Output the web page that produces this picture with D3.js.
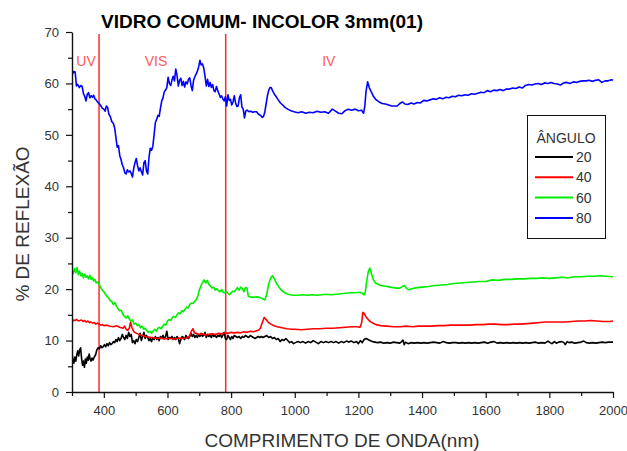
<!DOCTYPE html>
<html>
<head>
<meta charset="utf-8">
<script src="https://cdn.jsdelivr.net/npm/d3@7"></script>
<style>
  html, body { margin: 0; padding: 0; background: #fff; }
  svg { display: block; font-family: "Liberation Sans", Arial, sans-serif; }
</style>
</head>
<body>
<svg id="chart" width="627" height="451"></svg>
<script>
// Reflectance spectra of common clear glass (3 mm) at four incidence angles.
// Each series: [wavelength nm, % reflection]
const angles = ["20", "40", "60", "80"];
const colors = ["#000000", "#ff0000", "#00ee00", "#0000ff"];

const serie80 = [
[300,61.6],[305,62.3],[310,62.2],[314,59.5],[318,59.8],[323,59.2],[328,59.6],[332,59.4],[336,58.0],[340,57.5],
[344,56.6],[348,57.9],[352,58.2],[356,57.2],[360,57.6],[364,57.3],[368,57.7],[372,57.0],[376,56.8],[380,56.4],
[385,56.1],[390,55.7],[395,55.2],[400,55.0],[404,54.6],[408,55.6],[412,55.3],[416,54.0],[420,53.6],[425,52.6],
[430,52.2],[434,51.4],[438,49.5],[442,47.6],[446,47.9],[450,46.0],[454,45.2],[458,44.2],[462,43.6],[466,42.6],
[470,42.4],[474,43.2],[478,42.8],[482,43.0],[486,42.5],[490,41.8],[494,43.5],[498,44.6],[502,45.4],[506,44.0],
[510,43.0],[514,43.6],[518,42.8],[522,42.2],[526,44.6],[530,45.0],[534,43.0],[538,42.4],[542,45.6],[546,47.4],
[550,47.0],[554,47.8],[558,50.0],[562,52.4],[566,53.0],[570,53.8],[574,53.6],[578,55.2],[582,56.6],[586,57.2],
[590,58.4],[594,58.7],[598,59.2],[602,61.2],[606,60.0],[610,59.6],[614,60.6],[618,61.4],[622,60.5],[626,62.8],
[630,61.6],[634,59.5],[638,60.6],[642,61.0],[646,59.6],[650,60.4],[654,59.3],[658,60.3],[662,59.9],[666,60.8],
[670,61.1],[674,59.6],[678,58.6],[682,60.6],[686,61.3],[690,61.8],[694,62.4],[698,63.2],[702,64.5],[706,63.6],
[710,63.8],[714,63.0],[718,61.4],[722,59.5],[726,60.8],[730,59.4],[734,60.2],[738,59.2],[742,59.8],[746,58.6],
[750,58.4],[754,59.4],[758,58.6],[762,58.0],[766,57.3],[770,57.6],[774,57.0],[778,56.6],[782,57.4],[786,55.6],
[790,57.8],[794,56.7],[798,56.9],[802,55.8],[806,56.4],[810,57.6],[814,56.2],[818,55.5],[822,55.6],[826,57.2],
[830,57.8],[834,55.4],[838,55.0],[842,53.3],[846,54.6],[850,54.8],[856,54.5],[862,54.6],[868,54.4],[874,54.5],
[880,54.5],[886,54.0],[892,53.8],[898,53.4],[902,53.6],[906,54.5],[910,56.0],[914,57.6],[918,58.6],[922,59.2],
[926,59.2],[930,58.6],[936,57.9],[942,57.4],[948,56.8],[955,56.2],[962,55.8],[970,55.3],[978,55.0],[988,54.7],
[998,54.5],[1010,54.3],[1022,54.5],[1034,54.2],[1046,54.4],[1058,54.3],[1070,54.6],[1082,54.4],[1094,54.5],[1106,54.2],
[1118,55.0],[1128,54.6],[1138,54.2],[1148,54.1],[1158,54.7],[1168,55.0],[1178,54.8],[1190,55.0],[1200,54.7],[1210,54.8],
[1216,54.2],[1220,55.5],[1224,58.5],[1229,60.3],[1234,59.2],[1240,58.4],[1248,57.4],[1256,56.8],[1265,56.4],[1275,56.1],
[1285,56.0],[1295,55.8],[1305,55.6],[1315,55.6],[1322,55.6],[1330,56.1],[1338,56.4],[1346,56.0],[1355,55.9],[1365,56.2],
[1375,56.0],[1385,56.3],[1395,56.2],[1405,56.7],[1415,56.6],[1425,56.8],[1435,57.0],[1445,56.9],[1455,57.2],[1465,57.0],
[1475,57.3],[1485,57.2],[1495,57.5],[1505,57.4],[1515,57.7],[1525,57.6],[1535,57.8],[1545,57.7],[1555,58.0],[1565,57.9],
[1575,58.1],[1585,58.3],[1595,58.2],[1605,58.6],[1615,58.4],[1625,58.7],[1635,58.6],[1645,58.8],[1655,58.6],[1665,58.9],
[1675,58.9],[1685,59.1],[1695,59.0],[1705,59.3],[1715,59.1],[1725,59.6],[1735,59.8],[1745,59.7],[1755,59.9],[1765,60.0],
[1775,59.8],[1785,60.1],[1795,60.0],[1805,60.2],[1815,60.0],[1825,59.9],[1835,59.7],[1845,60.1],[1855,60.2],[1865,60.0],
[1875,60.3],[1885,60.2],[1895,60.4],[1905,60.5],[1915,60.5],[1925,60.6],[1935,60.4],[1945,60.6],[1955,60.7],[1965,60.2],
[1975,60.5],[1985,60.5],[1995,60.7],[2000,60.6]
];

const serie60 = [
[300,23.7],[304,23.0],[308,24.0],[312,23.2],[316,24.2],[320,22.8],[324,23.5],[328,22.6],[332,23.0],[336,22.2],
[340,22.9],[344,22.3],[348,22.6],[352,22.0],[356,22.7],[360,21.9],[364,22.2],[368,21.6],[372,21.9],[376,21.2],
[380,21.4],[385,21.0],[390,20.3],[395,19.9],[400,19.5],[405,19.0],[410,18.6],[415,18.3],[420,17.8],[425,17.6],
[430,17.0],[435,17.4],[440,16.6],[445,16.2],[450,15.8],[455,15.9],[460,15.1],[465,14.7],[470,14.4],[475,14.8],
[480,14.2],[485,13.8],[490,14.0],[495,13.2],[500,13.4],[505,12.9],[510,13.1],[515,12.5],[520,12.8],[525,12.2],
[530,12.4],[535,11.9],[540,11.6],[545,11.8],[550,11.4],[555,11.9],[560,12.2],[565,11.8],[570,12.4],[575,12.6],
[580,12.3],[585,12.8],[590,13.2],[595,13.0],[600,13.8],[605,14.1],[610,13.9],[615,14.4],[620,14.7],[625,14.5],
[630,15.0],[635,15.4],[640,15.2],[645,15.8],[650,15.6],[655,16.1],[660,16.5],[665,16.3],[670,17.0],[675,17.3],
[680,17.2],[685,17.6],[690,17.9],[695,18.6],[700,19.8],[705,20.6],[710,21.3],[715,21.8],[720,21.2],[725,21.7],
[730,20.9],[735,20.6],[740,20.2],[745,20.4],[750,19.8],[755,20.1],[760,19.7],[765,19.5],[770,19.9],[775,19.4],
[780,19.3],[785,19.6],[790,19.2],[795,18.9],[800,19.3],[805,19.6],[810,19.5],[815,19.9],[820,20.3],[825,19.8],
[830,20.4],[835,20.1],[840,19.5],[845,20.3],[850,20.2],[854,18.6],[860,18.5],[870,18.4],[880,18.5],[890,18.4],
[900,18.1],[906,17.9],[912,19.0],[918,21.0],[924,22.1],[930,22.6],[936,22.0],[942,21.2],[950,20.4],[958,19.8],
[966,19.4],[975,19.1],[985,18.9],[995,18.8],[1010,18.8],[1025,18.9],[1040,18.8],[1055,18.9],[1070,18.8],[1085,18.9],
[1100,19.0],[1115,18.9],[1130,19.0],[1145,19.1],[1160,19.2],[1175,19.3],[1190,19.3],[1205,19.4],[1212,19.2],[1218,18.9],
[1222,19.6],[1226,21.5],[1231,23.4],[1236,24.1],[1241,23.0],[1246,22.0],[1252,21.3],[1260,21.0],[1270,20.7],[1280,20.6],
[1290,20.5],[1300,20.4],[1310,20.3],[1320,20.2],[1330,20.2],[1338,20.5],[1345,20.7],[1352,20.1],[1358,19.9],[1370,20.1],
[1385,20.3],[1400,20.4],[1420,20.5],[1440,20.7],[1460,20.8],[1480,20.9],[1500,21.1],[1520,21.2],[1540,21.3],[1560,21.4],
[1580,21.5],[1600,21.5],[1620,21.8],[1640,21.7],[1660,21.9],[1680,21.9],[1700,22.0],[1720,22.0],[1740,22.1],[1760,22.1],
[1780,22.2],[1800,22.1],[1820,22.2],[1840,22.3],[1860,22.2],[1880,22.4],[1900,22.4],[1920,22.5],[1940,22.5],[1960,22.6],
[1980,22.5],[2000,22.4]
];

const serie40 = [
[300,13.6],[305,14.0],[310,13.9],[315,14.1],[320,13.8],[325,13.9],[330,14.0],[335,13.7],[340,13.9],[345,13.6],
[350,13.8],[355,13.5],[360,13.6],[365,13.4],[370,13.5],[375,13.2],[380,13.4],[385,13.2],[390,13.0],[395,13.1],
[400,12.9],[410,13.0],[420,12.8],[430,12.7],[440,12.9],[450,12.6],[460,12.4],[465,12.8],[470,12.2],[475,12.0],
[480,12.4],[484,13.6],[488,12.6],[492,12.0],[496,11.6],[500,11.5],[510,11.2],[520,11.0],[530,10.8],[540,10.7],
[550,10.6],[560,10.5],[570,10.4],[580,10.5],[590,10.3],[600,10.4],[610,10.4],[620,10.3],[630,10.4],[640,10.5],
[650,10.4],[660,10.5],[665,10.6],[670,11.0],[675,11.8],[680,12.3],[685,11.5],[690,11.4],[700,11.2],[710,11.3],
[720,11.1],[730,11.2],[740,11.3],[750,11.2],[760,11.4],[770,11.3],[780,11.5],[790,11.4],[800,11.6],[810,11.5],
[820,11.6],[830,11.5],[840,11.7],[850,11.6],[860,11.8],[870,11.7],[880,11.9],[886,12.0],[892,12.4],[898,13.5],
[904,14.5],[910,14.1],[916,13.6],[925,13.2],[935,12.9],[945,12.7],[960,12.5],[975,12.3],[990,12.2],[1000,12.2],
[1020,12.1],[1040,12.2],[1060,12.3],[1080,12.3],[1100,12.4],[1120,12.4],[1140,12.5],[1160,12.6],[1180,12.7],[1195,12.7],
[1205,12.6],[1210,13.4],[1214,15.5],[1218,15.3],[1222,14.8],[1228,14.3],[1235,13.8],[1245,13.4],[1255,13.1],[1270,12.9],
[1290,12.8],[1310,12.7],[1330,12.7],[1350,12.8],[1370,12.7],[1390,12.8],[1410,12.8],[1430,12.8],[1450,12.9],[1470,12.9],
[1490,13.0],[1510,13.0],[1530,13.0],[1550,13.0],[1570,13.1],[1590,13.1],[1610,13.2],[1630,13.2],[1650,13.1],[1670,13.1],
[1690,13.2],[1710,13.2],[1730,13.3],[1750,13.4],[1770,13.5],[1790,13.6],[1810,13.6],[1830,13.6],[1850,13.6],[1870,13.7],
[1890,13.8],[1910,13.8],[1930,13.9],[1950,13.8],[1970,13.7],[1990,13.7],[2000,13.8]
];

const serie20 = [
[300,7.6],[303,6.2],[306,5.6],[309,6.8],[312,6.0],[315,7.2],[318,8.0],[321,7.0],[324,8.2],[327,8.6],
[330,6.6],[333,5.2],[336,6.0],[339,4.8],[342,6.4],[345,5.6],[348,6.8],[351,6.2],[354,7.4],[357,6.4],
[360,6.0],[363,6.6],[366,6.2],[370,6.8],[374,7.2],[378,8.2],[382,8.6],[386,8.4],[390,9.0],[394,8.6],
[398,8.8],[402,9.2],[406,8.8],[410,9.4],[414,9.0],[418,9.6],[422,9.2],[426,9.4],[430,9.8],[434,9.6],
[438,10.2],[442,9.8],[446,10.6],[450,10.0],[454,10.4],[458,11.2],[462,10.6],[466,10.2],[470,11.0],[474,10.4],
[478,11.6],[482,10.8],[486,11.2],[490,9.6],[494,10.0],[498,9.4],[502,10.2],[506,9.8],[510,10.6],[514,11.4],
[518,10.0],[522,10.8],[526,11.6],[530,10.4],[534,11.0],[538,10.6],[542,10.0],[546,10.4],[550,9.8],[554,10.6],
[558,10.2],[562,10.8],[566,10.2],[570,10.6],[574,10.0],[578,10.8],[582,10.4],[586,11.0],[590,10.4],[594,10.8],
[598,11.8],[602,10.2],[606,10.6],[610,10.4],[614,10.8],[618,10.2],[622,10.6],[626,10.2],[630,10.8],[634,10.4],
[638,9.4],[642,10.2],[646,10.8],[650,10.6],[654,10.2],[658,11.0],[662,10.6],[666,10.4],[670,10.8],[674,11.4],
[678,10.8],[682,11.2],[686,10.6],[690,11.0],[694,10.6],[698,11.2],[702,10.8],[706,11.4],[710,10.8],[714,11.0],
[718,11.6],[722,10.6],[726,11.2],[730,10.8],[734,11.0],[738,10.6],[742,11.2],[746,10.8],[750,11.0],[754,10.6],
[758,11.0],[762,10.8],[766,11.2],[770,10.6],[774,11.0],[778,11.6],[782,10.4],[786,10.2],[790,11.0],[794,10.6],
[798,10.2],[802,10.8],[806,10.4],[810,11.0],[815,10.8],[820,10.6],[825,10.8],[830,10.4],[835,10.8],[840,10.6],
[845,11.0],[850,10.8],[855,10.6],[860,11.0],[865,10.8],[870,10.6],[875,10.4],[880,10.6],[885,10.8],[890,10.6],
[895,10.8],[900,10.6],[906,10.8],[912,11.0],[918,10.6],[924,10.8],[930,10.4],[936,10.6],[942,10.2],[948,10.4],
[954,9.8],[960,10.2],[966,10.0],[972,10.4],[978,10.0],[984,9.6],[990,9.8],[996,9.4],[1002,9.6],[1010,9.8],
[1018,9.6],[1026,9.8],[1034,9.5],[1042,9.8],[1050,9.6],[1058,10.0],[1066,9.7],[1074,9.4],[1082,9.8],[1090,9.6],
[1098,9.8],[1106,9.6],[1114,9.8],[1122,9.6],[1130,9.8],[1138,9.5],[1146,9.8],[1154,9.6],[1162,9.9],[1170,9.7],
[1178,9.9],[1186,9.6],[1194,9.8],[1200,9.4],[1206,10.0],[1212,9.6],[1218,10.2],[1224,10.4],[1230,10.2],[1236,10.0],
[1244,9.8],[1252,9.7],[1260,9.6],[1270,9.7],[1280,9.5],[1290,9.6],[1300,9.5],[1310,9.7],[1320,9.6],[1330,9.5],
[1336,9.8],[1340,10.1],[1344,9.2],[1348,9.7],[1356,9.4],[1366,9.6],[1376,9.5],[1386,9.6],[1396,9.5],[1406,9.6],
[1416,9.5],[1426,9.6],[1436,9.7],[1446,9.6],[1456,9.5],[1466,9.8],[1476,9.6],[1486,9.5],[1496,9.6],[1506,9.6],
[1516,9.5],[1526,9.6],[1536,9.5],[1546,9.6],[1556,9.5],[1566,9.6],[1576,9.5],[1586,9.6],[1596,9.7],[1606,9.5],
[1616,9.7],[1626,9.8],[1636,9.5],[1646,9.6],[1656,9.5],[1666,9.6],[1676,9.5],[1686,9.6],[1696,9.5],[1706,9.6],
[1716,9.5],[1726,9.6],[1736,9.5],[1746,9.6],[1756,9.7],[1766,9.5],[1776,9.6],[1786,9.5],[1796,9.9],[1802,9.6],
[1808,9.4],[1816,9.8],[1822,9.5],[1830,9.7],[1838,9.8],[1846,9.6],[1850,9.2],[1856,9.8],[1862,9.6],[1870,9.7],
[1880,9.5],[1890,9.6],[1900,9.7],[1908,9.9],[1916,9.6],[1926,9.5],[1936,9.6],[1946,9.5],[1956,9.6],[1966,9.7],
[1976,9.6],[1986,9.7],[2000,9.7]
];

// Spectral region boundaries (nm) and their labels
const regionBounds = [385, 783];
const regionLabels = [["UV", 344], ["VIS", 564], ["IV", 1107]];

const xTicks = [400, 600, 800, 1000, 1200, 1400, 1600, 1800, 2000];
const xMinor = [300, 500, 700, 900, 1100, 1300, 1500, 1700, 1900];
const yTicks = [0, 10, 20, 30, 40, 50, 60, 70];
const yMinor = [5, 15, 25, 35, 45, 55, 65];

const series = [serie20, serie40, serie60, serie80];

const svg = d3.select("#chart");
const x = d3.scaleLinear().domain([300, 2000]).range([72, 613]);
const y = d3.scaleLinear().domain([0, 70]).range([392, 32]);

svg.append("defs").append("clipPath").attr("id", "plot")
  .append("rect").attr("x", 72).attr("y", 28).attr("width", 542).attr("height", 364);

// Region separators
svg.append("g").selectAll("line").data(regionBounds).join("line")
  .attr("x1", d => x(d)).attr("x2", d => x(d))
  .attr("y1", 34).attr("y2", y(0))
  .attr("stroke", "#ff2a2a").attr("stroke-width", 1.5);

svg.append("g").selectAll("text").data(regionLabels).join("text")
  .attr("x", d => x(d[1])).attr("y", 66)
  .attr("text-anchor", "middle")
  .attr("fill", "#ff5a5a").attr("font-size", 14)
  .text(d => d[0]);

// Spectra
const line = d3.line().x(d => x(d[0])).y(d => y(d[1]));
svg.append("g").attr("clip-path", "url(#plot)")
  .selectAll("path").data(series).join("path")
  .attr("d", line)
  .attr("fill", "none")
  .attr("stroke", (d, i) => colors[i])
  .attr("stroke-width", 1.6)
  .attr("stroke-linejoin", "round");

// Axes
function styleAxis(g) {
  g.selectAll(".domain").attr("stroke", "#111").attr("stroke-width", 1.4);
  g.selectAll(".tick line").attr("stroke", "#111").attr("stroke-width", 1.2);
  g.selectAll(".tick text").attr("fill", "#333").attr("font-size", 13)
    .attr("font-family", "Liberation Sans, Arial, sans-serif");
}

const fmt = d3.format("d");

svg.append("g").attr("transform", `translate(0,${y(0)})`)
  .call(d3.axisBottom(x).tickValues(xMinor).tickSize(4).tickFormat(""))
  .call(g => g.select(".domain").remove())
  .call(styleAxis);
svg.append("g").attr("transform", `translate(0,${y(0)})`)
  .call(d3.axisBottom(x).tickValues(xTicks).tickSize(6).tickPadding(8).tickSizeOuter(0).tickFormat(fmt))
  .call(styleAxis);

svg.append("g").attr("transform", `translate(${x(300)},0)`)
  .call(d3.axisLeft(y).tickValues(yMinor).tickSize(4).tickFormat(""))
  .call(g => g.select(".domain").remove())
  .call(styleAxis);
svg.append("g").attr("transform", `translate(${x(300)},0)`)
  .call(d3.axisLeft(y).tickValues(yTicks).tickSize(6).tickPadding(7).tickSizeOuter(0).tickFormat(fmt))
  .call(styleAxis);

// Titles
svg.append("text").attr("x", 262).attr("y", 28).attr("text-anchor", "middle")
  .attr("font-size", 19).attr("font-weight", "bold").attr("fill", "#000")
  .text("VIDRO COMUM- INCOLOR 3mm(01)");

svg.append("text").attr("x", 342).attr("y", 447).attr("text-anchor", "middle")
  .attr("font-size", 19).attr("fill", "#333")
  .text("COMPRIMENTO DE ONDA(nm)");

svg.append("text").attr("transform", "translate(29,224) rotate(-90)")
  .attr("text-anchor", "middle").attr("font-size", 19).attr("fill", "#333")
  .text("% DE REFLEXÃO");

// Legend
const lg = svg.append("g");
lg.append("rect").attr("x", 527.5).attr("y", 115.5).attr("width", 78).attr("height", 123)
  .attr("fill", "#fff").attr("stroke", "#111").attr("stroke-width", 1);
lg.append("text").attr("x", 566).attr("y", 143).attr("text-anchor", "middle")
  .attr("font-size", 14).attr("fill", "#333").text("ÂNGULO");
const items = lg.selectAll("g.item").data(angles).join("g").attr("class", "item")
  .attr("transform", (d, i) => `translate(0,${157 + i * 20.3})`);
items.append("line").attr("x1", 535).attr("x2", 573).attr("y1", 0).attr("y2", 0)
  .attr("stroke", (d, i) => colors[i]).attr("stroke-width", 2);
items.append("text").attr("x", 576).attr("y", 5).attr("font-size", 14).attr("fill", "#333")
  .text(d => d);
</script>
</body>
</html>
